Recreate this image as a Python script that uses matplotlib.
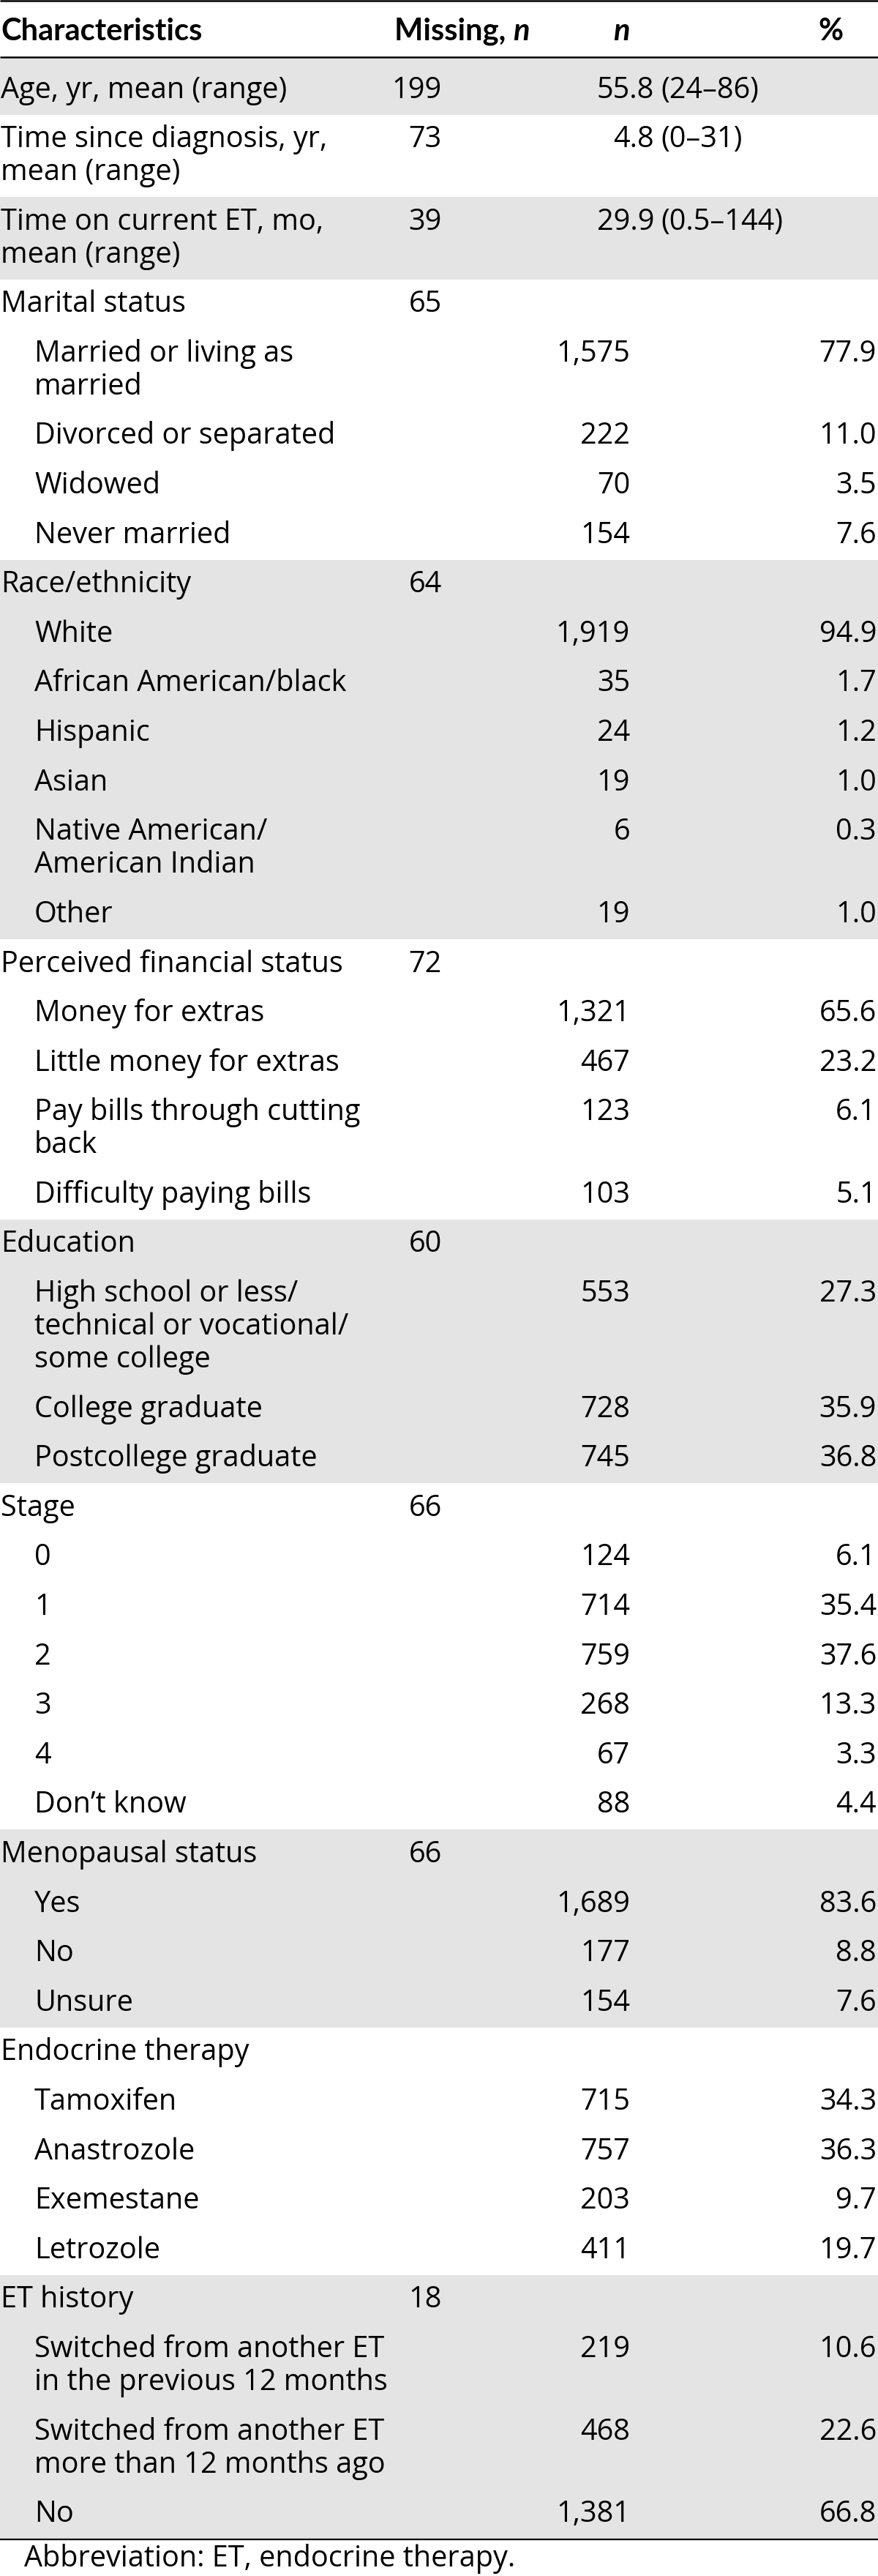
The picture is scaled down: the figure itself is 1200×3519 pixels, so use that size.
import matplotlib
matplotlib.use("Agg")
import matplotlib.pyplot as plt
from matplotlib.patches import Rectangle

# ---------------- data ----------------
labels = [
    "Age, yr, mean (range)",
    "Time since diagnosis, yr,\nmean (range)",
    "Time on current ET, mo,\nmean (range)",
    "Marital status",
    "Married or living as\nmarried",
    "Divorced or separated",
    "Widowed",
    "Never married",
    "Race/ethnicity",
    "White",
    "African American/black",
    "Hispanic",
    "Asian",
    "Native American/\nAmerican Indian",
    "Other",
    "Perceived financial status",
    "Money for extras",
    "Little money for extras",
    "Pay bills through cutting\nback",
    "Difficulty paying bills",
    "Education",
    "High school or less/\ntechnical or vocational/\nsome college",
    "College graduate",
    "Postcollege graduate",
    "Stage",
    "0", "1", "2", "3", "4",
    "Don\u2019t know",
    "Menopausal status",
    "Yes", "No", "Unsure",
    "Endocrine therapy",
    "Tamoxifen", "Anastrozole", "Exemestane", "Letrozole",
    "ET history",
    "Switched from another ET\nin the previous 12 months",
    "Switched from another ET\nmore than 12 months ago",
    "No",
]
level = [0, 0, 0,
         0, 1, 1, 1, 1,
         0, 1, 1, 1, 1, 1, 1,
         0, 1, 1, 1, 1,
         0, 1, 1, 1,
         0, 1, 1, 1, 1, 1, 1,
         0, 1, 1, 1,
         0, 1, 1, 1, 1,
         0, 1, 1, 1]
group = [0, 1, 2,
         3, 3, 3, 3, 3,
         4, 4, 4, 4, 4, 4, 4,
         5, 5, 5, 5, 5,
         6, 6, 6, 6,
         7, 7, 7, 7, 7, 7, 7,
         8, 8, 8, 8,
         9, 9, 9, 9, 9,
         10, 10, 10, 10]
missing = ["199", "73", "39",
           "65", "", "", "", "",
           "64", "", "", "", "", "", "",
           "72", "", "", "", "",
           "60", "", "", "",
           "66", "", "", "", "", "", "",
           "66", "", "", "",
           "", "", "", "", "",
           "18", "", "", ""]
n_vals = ["", "", "",
          "", "1,575", "222", "70", "154",
          "", "1,919", "35", "24", "19", "6", "19",
          "", "1,321", "467", "123", "103",
          "", "553", "728", "745",
          "", "124", "714", "759", "268", "67", "88",
          "", "1,689", "177", "154",
          "", "715", "757", "203", "411",
          "", "219", "468", "1,381"]
pct_vals = ["", "", "",
            "", "77.9", "11.0", "3.5", "7.6",
            "", "94.9", "1.7", "1.2", "1.0", "0.3", "1.0",
            "", "65.6", "23.2", "6.1", "5.1",
            "", "27.3", "35.9", "36.8",
            "", "6.1", "35.4", "37.6", "13.3", "3.3", "4.4",
            "", "83.6", "8.8", "7.6",
            "", "34.3", "36.3", "9.7", "19.7",
            "", "10.6", "22.6", "66.8"]
mean_vals = ["55.8", "4.8", "29.9"]
range_vals = ["(24\u201386)", "(0\u201331)", "(0.5\u2013144)"]
headers = ["Characteristics", "Missing, ", "n", "n", "%"]
footnote = "Abbreviation: ET, endocrine therapy."

# ---------------- layout ----------------
W, H = 1200, 3519
FONT = ["Open Sans", "DejaVu Sans"]
HFONT = ["Lato", "DejaVu Sans"]
FS = 28.5
HFS = 30.0
SHADE = "#e4e4e4"
ROW_H = 67.6
LINE_H = 45.0
FIRST_EXTRA = 9.4
HEADER_BOTTOM = 79.5

X_MAIN, X_SUB = 1, 47
X_MISS = 604
X_N = 861
X_PCT = 1198
X_MEAN = 894
X_RANGE = 903

fig = plt.figure(figsize=(W / 100, H / 100), dpi=100)
ax = fig.add_axes([0, 0, 1, 1])
ax.set_xlim(0, W)
ax.set_ylim(H, 0)
ax.axis("off")

def txt(x, y, s, ha="left", family=FONT, size=FS, **kw):
    return ax.text(x, y, s, ha=ha, va="baseline", fontsize=size, family=family,
                   color="black", **kw)

# header
txt(X_MAIN, 55, headers[0], weight="bold", family=HFONT, size=HFS)
miss_t = txt(539, 55, headers[1], weight="bold", family=HFONT, size=HFS)
fig.canvas.draw()
bb = miss_t.get_window_extent(renderer=fig.canvas.get_renderer())
txt(bb.x1, 55, headers[2], weight="bold", style="italic", family=HFONT, size=HFS)
txt(X_N, 55, headers[3], ha="right", weight="bold", style="italic", family=HFONT, size=HFS)
txt(1152, 55, headers[4], ha="right", weight="bold", family=HFONT, size=HFS)

# rows
y = HEADER_BOTTOM
for i, lab in enumerate(labels):
    nl = lab.count("\n") + 1
    h = ROW_H + LINE_H * (nl - 1) + (FIRST_EXTRA if i == 0 else 0)
    if group[i] % 2 == 0:
        ax.add_patch(Rectangle((0, y), W, h, facecolor=SHADE, edgecolor="none", zorder=0))
    base = y + h - 23 - LINE_H * (nl - 1)
    x = X_SUB if level[i] else X_MAIN
    for k, line in enumerate(lab.split("\n")):
        txt(x, base + k * LINE_H, line)
    if missing[i]:
        txt(X_MISS, base, missing[i], ha="right")
    if n_vals[i]:
        txt(X_N, base, n_vals[i], ha="right")
    if pct_vals[i]:
        txt(X_PCT, base, pct_vals[i], ha="right")
    if i < len(mean_vals):
        txt(X_MEAN, base, mean_vals[i], ha="right")
        txt(X_RANGE, base, range_vals[i], ha="left")
    y += h

bottom = y
# rules
ax.plot([0, W], [1.2, 1.2], color="black", lw=1.8, solid_capstyle="butt")
ax.plot([0, W], [HEADER_BOTTOM - 1.5, HEADER_BOTTOM - 1.5], color="black", lw=1.8, solid_capstyle="butt")
ax.plot([0, W], [bottom + 1, bottom + 1], color="black", lw=1.6, solid_capstyle="butt")

txt(33, bottom + 38, footnote)

fig.savefig("out.png", dpi=100)
